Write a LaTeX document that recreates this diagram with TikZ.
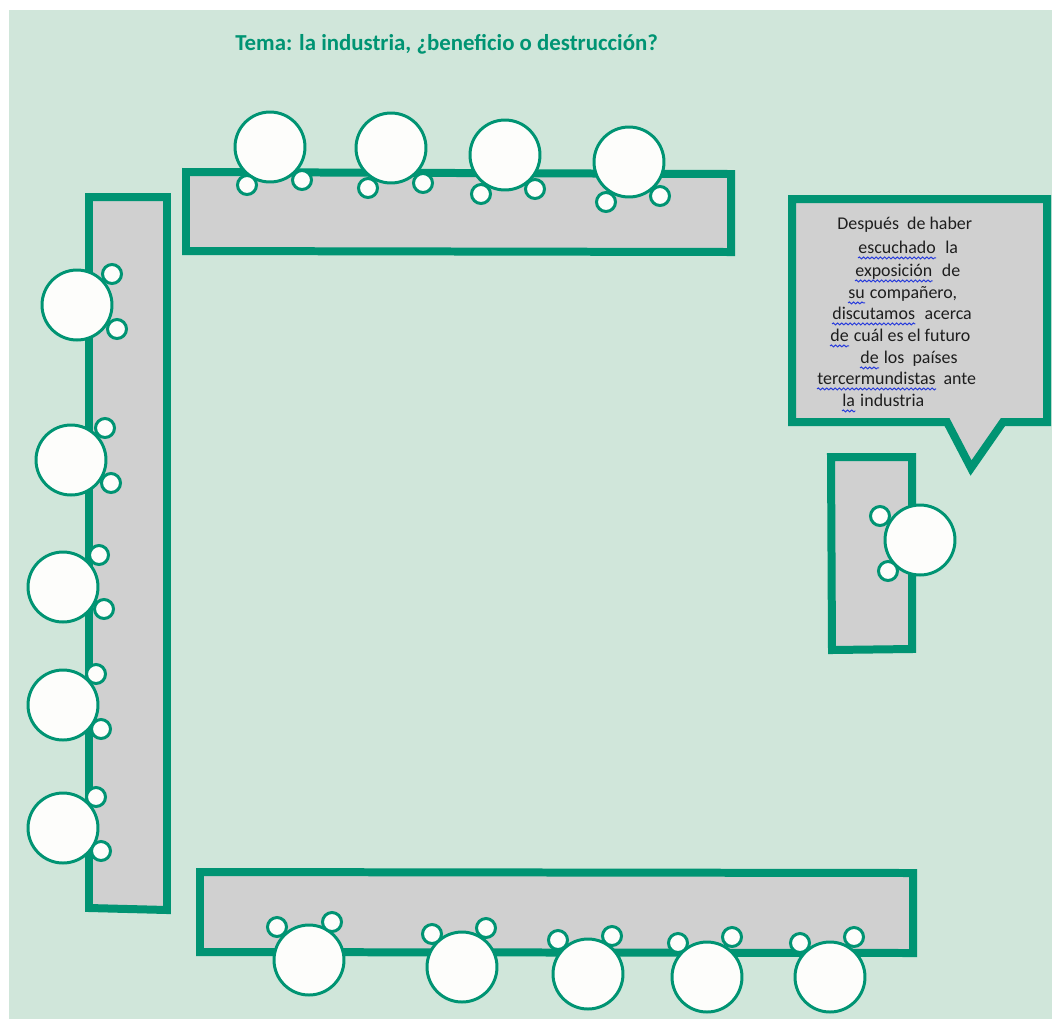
\documentclass[tikz,border=0pt]{standalone}
\usepackage{fontspec}
\setmainfont{Carlito}
\usetikzlibrary{decorations.pathmorphing}
\definecolor{bgc}{RGB}{208,230,218}
\definecolor{teal}{RGB}{0,148,115}
\definecolor{tablec}{RGB}{208,208,208}
\definecolor{chairc}{RGB}{253,253,251}
\definecolor{txtc}{RGB}{30,30,30}
\definecolor{spellc}{RGB}{40,60,220}
\tikzset{
  tablebox/.style={draw=teal, fill=tablec, line width=4.55pt, line join=miter},
  bigchair/.style={circle, draw=teal, fill=chairc, line width=1.7pt, inner sep=0pt, minimum size=1.4cm},
  smallchair/.style={circle, draw=teal, fill=chairc, line width=1.7pt, inner sep=0pt, minimum size=0.38cm},
  bt/.style={font=\fontsize{10.2pt}{12pt}\selectfont, text=txtc, inner sep=0pt, anchor=base west},
  spell/.style={spellc, line width=0.55pt, decorate, decoration={snake, amplitude=0.55pt, segment length=2.4pt}},
  titlec/.style={font=\bfseries\fontsize{13pt}{15pt}\selectfont, text=teal, inner sep=0pt, anchor=base west}
}
\newcommand{\spellunder}[1]{\draw[spell] ([yshift=-2.8pt]#1.base west) -- ([yshift=-2.8pt]#1.base east);}
\begin{document}
\begin{tikzpicture}[x=0.02cm,y=-0.02cm]
\useasboundingbox (0,0) rectangle (1052,1019);
\fill[white] (0,0) rectangle (1052,1019);
\fill[bgc] (9,10) rectangle (1052,1019);

% title
\node[titlec] (title) at (235,50) {Tema: la industria, ¿beneficio o destrucción?};

% tables
\draw[tablebox] (186,172) -- (731,174) -- (731,252) -- (186,251) -- cycle;
\draw[tablebox] (89,197) -- (167,197) -- (167,910) -- (89,908) -- cycle;
\draw[tablebox] (200,872) -- (913,873) -- (913,953) -- (200,952) -- cycle;
\draw[tablebox] (831,457) -- (912,457) -- (912,649) -- (832,650) -- cycle;

% speech bubble
\draw[tablebox] (792,199) -- (1047,199) -- (1047,422) -- (1003,422) -- (971,468) -- (947,422) -- (792,422) -- cycle;

% top chairs
\node[bigchair] (t1) at (270,147) {};
\node[bigchair] (t2) at (391,148) {};
\node[bigchair] (t3) at (505,155) {};
\node[bigchair] (t4) at (629,162) {};
\node[smallchair] (t1a) at (247,185) {};
\node[smallchair] (t1b) at (302,180) {};
\node[smallchair] (t2a) at (368,188) {};
\node[smallchair] (t2b) at (423,183) {};
\node[smallchair] (t3a) at (481,194) {};
\node[smallchair] (t3b) at (535,189) {};
\node[smallchair] (t4a) at (606,202) {};
\node[smallchair] (t4b) at (660,196) {};

% left chairs
\node[bigchair] (l1) at (77,305) {};
\node[bigchair] (l2) at (71,460) {};
\node[bigchair] (l3) at (63,587) {};
\node[bigchair] (l4) at (63,705) {};
\node[bigchair] (l5) at (63,828) {};
\node[smallchair] (l1a) at (112,274) {};
\node[smallchair] (l1b) at (117,329) {};
\node[smallchair] (l2a) at (105,428) {};
\node[smallchair] (l2b) at (111,483) {};
\node[smallchair] (l3a) at (99,555) {};
\node[smallchair] (l3b) at (104,609) {};
\node[smallchair] (l4a) at (96,674) {};
\node[smallchair] (l4b) at (101,729) {};
\node[smallchair] (l5a) at (96,797) {};
\node[smallchair] (l5b) at (101,851) {};

% bottom chairs
\node[bigchair] (b1) at (309,960) {};
\node[bigchair] (b2) at (462,967) {};
\node[bigchair] (b3) at (588,974) {};
\node[bigchair] (b4) at (707,977) {};
\node[bigchair] (b5) at (830,977) {};
\node[smallchair] (b1a) at (277,927) {};
\node[smallchair] (b1b) at (332,922) {};
\node[smallchair] (b2a) at (432,934) {};
\node[smallchair] (b2b) at (486,928) {};
\node[smallchair] (b3a) at (558,940) {};
\node[smallchair] (b3b) at (612,936) {};
\node[smallchair] (b4a) at (678,943) {};
\node[smallchair] (b4b) at (732,937) {};
\node[smallchair] (b5a) at (800,943) {};
\node[smallchair] (b5b) at (854,937) {};

% right chair
\node[bigchair] (r1) at (920,540) {};
\node[smallchair] (r1a) at (880,516) {};
\node[smallchair] (r1b) at (888,571) {};

% bubble text
\node[bt] (s1) at (837,229) {Después\ \ de haber};
\node[bt] (s2a) at (858,253) {escuchado};
\node[bt] (s2b) at (s2a.base east) {\hspace{0.5em}la};
\node[bt] (s3a) at (855,276) {exposición};
\node[bt] (s3b) at (s3a.base east) {\hspace{0.5em}de};
\node[bt] (s4a) at (848,298) {su};
\node[bt] (s4b) at (s4a.base east) {\hspace{0.25em}compañero,};
\node[bt] (s5a) at (832,319) {discutamos};
\node[bt] (s5b) at (s5a.base east) {\hspace{0.5em}acerca};
\node[bt] (s6a) at (830,341) {de};
\node[bt] (s6b) at (s6a.base east) {\hspace{0.25em}cuál es el futuro};
\node[bt] (s7a) at (860,363) {de};
\node[bt] (s7b) at (s7a.base east) {\hspace{0.25em}los\ \ países};
\node[bt] (s8a) at (817,384) {tercermundistas};
\node[bt] (s8b) at (s8a.base east) {\hspace{0.4em}ante};
\node[bt] (s9a) at (842,406) {la};
\node[bt] (s9b) at (s9a.base east) {\hspace{0.25em}industria};
\spellunder{s2a}
\spellunder{s3a}
\spellunder{s4a}
\spellunder{s5a}
\spellunder{s6a}
\spellunder{s7a}
\spellunder{s8a}
\spellunder{s9a}
\end{tikzpicture}
\end{document}
